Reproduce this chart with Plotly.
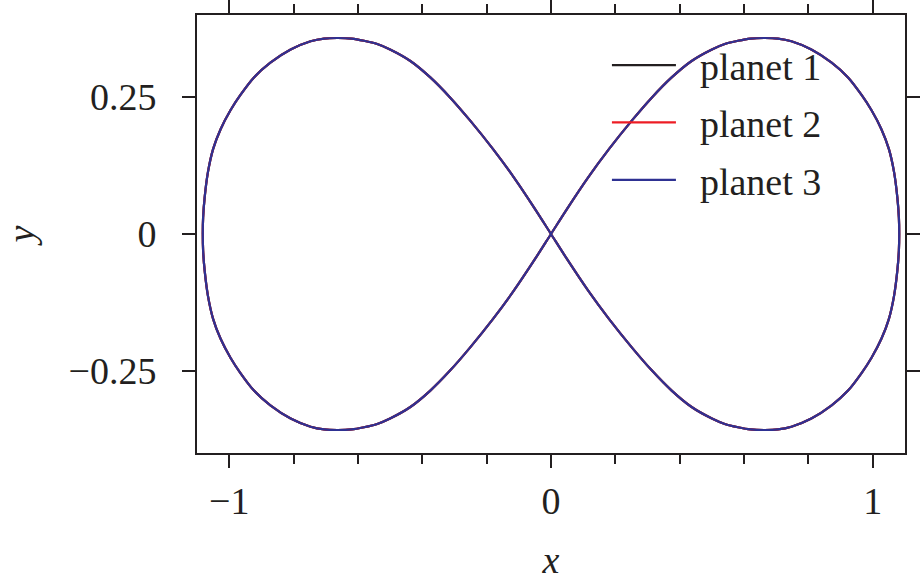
import plotly.graph_objects as go

# Figure-eight orbit, points (one full loop:
# right lobe upper, right lobe lower, left lobe upper, left lobe lower)
orbit_x = [
    0.0, 0.050, 0.115, 0.180, 0.251, 0.313, 0.375, 0.437, 0.500, 0.540, 0.581, 0.620, 0.664,
    0.705, 0.747, 0.809, 0.872, 0.923, 0.965, 0.996, 1.027, 1.050, 1.066, 1.076, 1.081, 1.082,
    1.081, 1.076, 1.066, 1.050, 1.027, 0.996, 0.965, 0.923, 0.872, 0.809, 0.747, 0.705, 0.664,
    0.620, 0.581, 0.540, 0.500, 0.437, 0.375, 0.313, 0.251, 0.180, 0.115, 0.050, 0.0,
    -0.050, -0.115, -0.180, -0.251, -0.313, -0.375, -0.437, -0.500, -0.540, -0.581, -0.620, -0.664,
    -0.705, -0.747, -0.809, -0.872, -0.923, -0.965, -0.996, -1.027, -1.050, -1.066, -1.076, -1.081, -1.082,
    -1.081, -1.076, -1.066, -1.050, -1.027, -0.996, -0.965, -0.923, -0.872, -0.809, -0.747, -0.705, -0.664,
    -0.620, -0.581, -0.540, -0.500, -0.437, -0.375, -0.313, -0.251, -0.180, -0.115, -0.050, 0.0,
]
orbit_y = [
    0.0, 0.046, 0.103, 0.155, 0.207, 0.249, 0.286, 0.316, 0.337, 0.347, 0.353, 0.357, 0.358,
    0.357, 0.352, 0.337, 0.313, 0.286, 0.254, 0.226, 0.191, 0.155, 0.113, 0.068, 0.030, 0.0,
    -0.030, -0.068, -0.113, -0.155, -0.191, -0.226, -0.254, -0.286, -0.313, -0.337, -0.352, -0.357, -0.358,
    -0.357, -0.353, -0.347, -0.337, -0.316, -0.286, -0.249, -0.207, -0.155, -0.103, -0.046, 0.0,
    0.046, 0.103, 0.155, 0.207, 0.249, 0.286, 0.316, 0.337, 0.347, 0.353, 0.357, 0.358,
    0.357, 0.352, 0.337, 0.313, 0.286, 0.254, 0.226, 0.191, 0.155, 0.113, 0.068, 0.030, 0.0,
    -0.030, -0.068, -0.113, -0.155, -0.191, -0.226, -0.254, -0.286, -0.313, -0.337, -0.352, -0.357, -0.358,
    -0.357, -0.353, -0.347, -0.337, -0.316, -0.286, -0.249, -0.207, -0.155, -0.103, -0.046, 0.0,
]

planet_names = ["planet 1", "planet 2", "planet 3"]
planet_colors = ["#231f20", "#ed1c24", "#2e3192"]

x_ticks = [-1, 0, 1]
x_ticklabels = ["\u22121", "0", "1"]
y_ticks = [-0.25, 0, 0.25]
y_ticklabels = ["\u22120.25", "0", "0.25"]

FONT = "Liberation Serif"
INK = "#231f20"

fig = go.Figure()
for i, (name, col) in enumerate(zip(planet_names, planet_colors)):
    fig.add_trace(go.Scatter(
        x=orbit_x, y=orbit_y, mode="lines",
        name="\u00a0\u00a0" + name,
        line=dict(color=col, width=2.2, shape="spline", smoothing=0.9),
        legendgroup=f"g{i}",
    ))

axis_common = dict(
    showgrid=False, zeroline=False, showline=True, linecolor=INK,
    linewidth=2, mirror="allticks", ticks="outside", ticklen=13, tickwidth=2,
    tickcolor=INK, tickfont=dict(family=FONT, size=38, color=INK),
    automargin=False,
)

fig.update_layout(
    width=921, height=581,
    margin=dict(l=197, r=16, t=15, b=128),
    paper_bgcolor="white", plot_bgcolor="white",
    font=dict(family=FONT, size=38, color=INK),
    xaxis=dict(
        range=[-1.1, 1.1], tickvals=x_ticks, ticktext=x_ticklabels,
        minor=dict(dtick=0.2, tick0=0, ticks="outside", ticklen=9, tickwidth=2,
                   tickcolor=INK),
        title=dict(text="<i>x</i>", font=dict(family=FONT, size=38), standoff=40),
        **axis_common,
    ),
    yaxis=dict(
        range=[-0.4, 0.4], tickvals=y_ticks, ticktext=y_ticklabels,
        ticklabelstandoff=18,
        title=dict(text="<i>y</i>", font=dict(family=FONT, size=38), standoff=33),
        **axis_common,
    ),
    legend=dict(
        x=0.579, y=0.957, xanchor="left", yanchor="top",
        bgcolor="rgba(0,0,0,0)", borderwidth=0,
        font=dict(family=FONT, size=38, color=INK),
        traceorder="grouped", tracegroupgap=5, itemwidth=64,
    ),
    showlegend=True,
)

fig.write_html(
    "out.html",
    config={"displayModeBar": False},
    post_script="document.body.style.margin='0';document.body.style.overflow='hidden';",
)
